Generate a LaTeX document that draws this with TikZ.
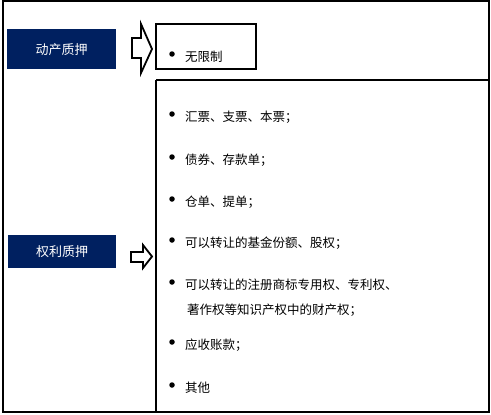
\documentclass[tikz,border=0pt]{standalone}
\usepackage{fontspec}
\newfontfamily\cjk{Noto Sans CJK SC}
\definecolor{navy}{RGB}{0,32,96}
\begin{document}
\begin{tikzpicture}[x=1pt,y=-1pt,
  frame/.style={draw=black,line width=1.2pt},
  cat/.style={fill=navy,text=white,font=\cjk\fontsize{13}{15}\selectfont,inner sep=0pt,anchor=north west},
  item/.style={anchor=west,font=\cjk\fontsize{12.5}{14}\selectfont,inner sep=0pt},
  blk/.style={draw=black,line width=1.8pt,fill=white,line join=miter},
  dot/.style={fill=black,circle,inner sep=0pt,minimum size=5.5pt}]
\useasboundingbox (0,0) rectangle (491,415);
% outer frame
\draw[frame] (3,1) rectangle (489,412);
% category boxes
\node[cat,minimum width=109pt,minimum height=40pt] (dc) at (7,29) {动产质押};
\node[cat,minimum width=108pt,minimum height=33pt] (ql) at (8,235) {权利质押};
% list boxes
\draw[frame] (156,24) rectangle (256,69);
\draw[frame] (156,80) -- (489,80);
\draw[frame] (156,80) -- (156,412);
% block arrows
\draw[blk] (132,38) -- (141,38) -- (141,24) -- (152,49) -- (141,73) -- (141,58) -- (132,58) -- cycle;
\draw[blk] (131,252) -- (143,252) -- (143,245) -- (152,256.5) -- (143,268) -- (143,262) -- (131,262) -- cycle;
% items
\foreach \y/\t [count=\i] in {57/无限制,117/汇票、支票、本票；,160/债券、存款单；,202/仓单、提单；,243/可以转让的基金份额、股权；,285/可以转让的注册商标专用权、专利权、,345/应收账款；,388/其他}{
  \node[dot] (d\i) at (172,\y-3) {};
  \node[item] (t\i) at (185,\y) {\t};
}
\node[item] (t6b) at (187,310) {著作权等知识产权中的财产权；};
\end{tikzpicture}
\end{document}
